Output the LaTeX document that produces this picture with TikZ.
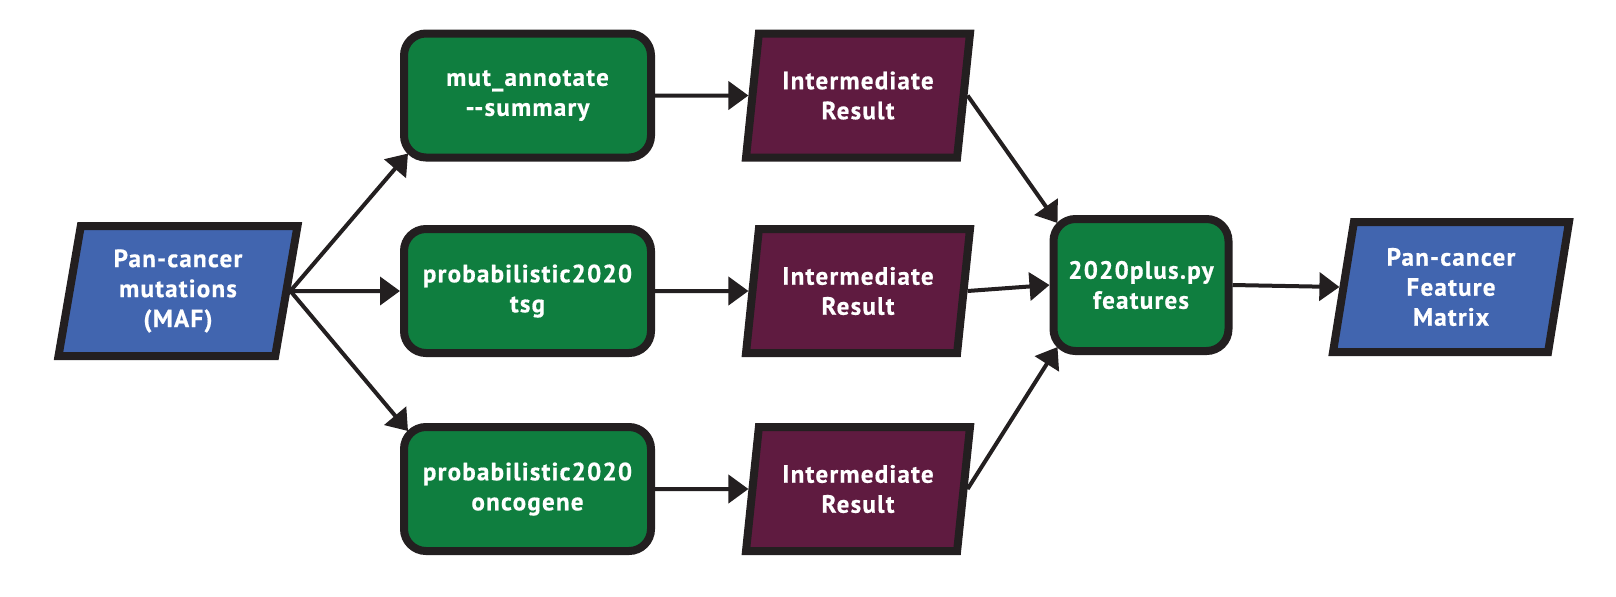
\documentclass[tikz,border=0pt]{standalone}
\usepackage{fontspec}
\setmainfont{PT Sans}[BoldFeatures={FakeBold=0.6,LetterSpace=5}]
\usetikzlibrary{shapes.geometric,arrows.meta,calc}
\definecolor{cblue}{HTML}{4165AF}
\definecolor{cgreen}{HTML}{0F7E3F}
\definecolor{cpurple}{HTML}{5F1B40}
\definecolor{cstroke}{HTML}{231F20}
\begin{document}
\begin{tikzpicture}[x=0.5pt,y=-0.5pt,
 box/.style={draw=cstroke, line width=4pt, text=white, font=\bfseries\fontsize{12.5}{15}\selectfont, align=center, inner sep=0pt},
 proc/.style={box, fill=cgreen, rectangle, rounded corners=11pt, minimum width=123.5pt, minimum height=62pt},
 data/.style={box, trapezium, trapezium left angle=75, trapezium right angle=105, trapezium stretches body, minimum height=65pt},
 conn/.style={draw=cstroke, line width=2pt, -{Triangle[length=10pt,width=14pt]}}]
\useasboundingbox (0,0) rectangle (1616,596);
\node[data, fill=cblue, minimum width=119.5pt] (maf) at (178,291) {Pan-cancer\\mutations\\(MAF)};
\node[proc] (g1) at (527.5,95.5) {mut\_annotate\\{-}{-}summary};
\node[proc] (g2) at (527.5,291) {probabilistic2020\\tsg};
\node[proc] (g3) at (527.5,489) {probabilistic2020\\oncogene};
\node[data, fill=cpurple, minimum width=112pt, minimum height=62pt] (p1) at (858,95.5) {Intermediate\\Result};
\node[data, fill=cpurple, minimum width=112pt, minimum height=62pt] (p2) at (858,291) {Intermediate\\Result};
\node[data, fill=cpurple, minimum width=112pt, minimum height=62pt] (p3) at (858,489) {Intermediate\\Result};
\node[proc, minimum width=87.5pt, minimum height=66pt] (f) at (1141,285) {2020plus.py\\features};
\node[data, fill=cblue, minimum width=118pt] (r) at (1451,287) {Pan-cancer\\Feature\\Matrix};
\draw[conn] (maf.east) -- ($(g1.south west)+(8,-8)$);
\draw[conn] (maf.east) -- (g2.west);
\draw[conn] (maf.east) -- ($(g3.north west)+(8,8)$);
\draw[conn] (g1.east) -- (p1.west);
\draw[conn] (g2.east) -- (p2.west);
\draw[conn] (g3.east) -- (p3.west);
\draw[conn] (p1.east) -- ($(f.north west)+(8,8)$);
\draw[conn] (p2.east) -- (f.west);
\draw[conn] (p3.east) -- ($(f.south west)+(8,-8)$);
\draw[conn] (f.east) -- (r.west);
\end{tikzpicture}
\end{document}
